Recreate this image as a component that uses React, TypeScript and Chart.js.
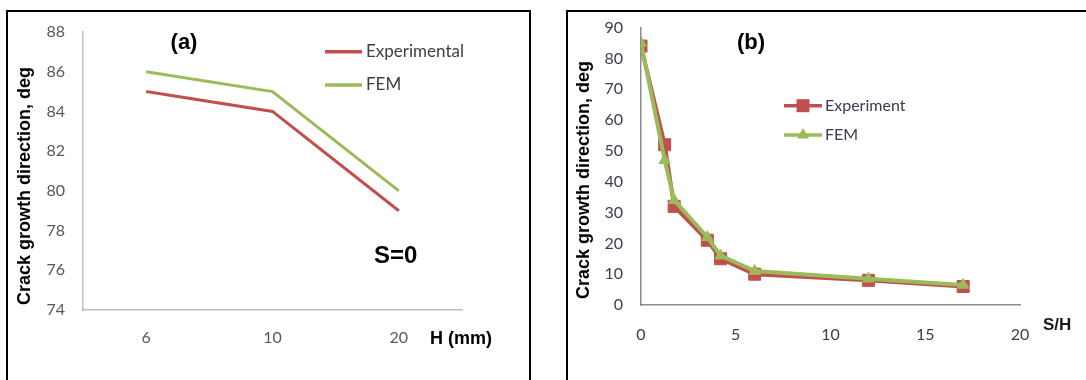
import React, { useEffect, useRef } from 'react';
import { Chart, registerables } from 'chart.js';

Chart.register(...registerables);

// ---------- Data: panel (a) ----------
const hLabels = ['6', '10', '20'];
const expA = [85, 84, 79];
const femA = [86, 85, 80];

// ---------- Data: panel (b) ----------
const sOverH = [0, 1.25, 1.75, 3.5, 4.2, 6, 12, 17];
const expB = [84, 52, 32, 21, 15, 10, 8, 6];
const femB = [85, 47, 34, 22, 16, 11, 8.5, 6.5];

const RED = '#C0504D';
const GREEN = '#9BBB59';
const BOLD_FAMILY = '"Liberation Sans", Arial, sans-serif';
const TICK_FAMILY = 'Lato, "Open Sans", sans-serif';

function drawText(ctx: any, text: string, x: number, y: number, font: string, color: string, align: string = 'left', rot = 0) {
  ctx.save();
  ctx.font = font;
  ctx.fillStyle = color;
  ctx.textAlign = align;
  ctx.textBaseline = 'middle';
  ctx.translate(x, y);
  if (rot) ctx.rotate(rot);
  ctx.fillText(text, 0, 0);
  ctx.restore();
}

const overlayA = {
  id: 'overlayA',
  afterDraw(chart: any) {
    const ctx = chart.ctx;
    drawText(ctx, 'Crack growth direction, deg', 25, 186, `bold 18px ${BOLD_FAMILY}`, '#000', 'center', -Math.PI / 2);
    drawText(ctx, '(a)', 184, 43, `bold 22px ${BOLD_FAMILY}`, '#000', 'center');
    drawText(ctx, 'S=0', 374, 256, `bold 24px ${BOLD_FAMILY}`, '#000', 'left');
    drawText(ctx, 'H (mm)', 430, 339, `bold 18px ${BOLD_FAMILY}`, '#000', 'left');
    const ds = chart.data.datasets;
    const rows = [51.7, 85];
    ds.forEach((d: any) => {
      const y = rows[d.legendRow];
      ctx.save();
      ctx.strokeStyle = d.borderColor;
      ctx.lineWidth = 3.5;
      ctx.beginPath();
      ctx.moveTo(325, y);
      ctx.lineTo(362, y);
      ctx.stroke();
      ctx.restore();
      drawText(ctx, d.label, 366, y, `17px ${TICK_FAMILY}`, '#404040', 'left');
    });
  },
};

const OX = 568; // page x of right canvas
const overlayB = {
  id: 'overlayB',
  afterDraw(chart: any) {
    const ctx = chart.ctx;
    drawText(ctx, 'Crack growth direction, deg', 584 - OX, 180, `bold 18px ${BOLD_FAMILY}`, '#000', 'center', -Math.PI / 2);
    drawText(ctx, '(b)', 751 - OX, 43, `bold 22px ${BOLD_FAMILY}`, '#000', 'center');
    drawText(ctx, 'S/H', 1043 - OX, 325, `bold 17px ${BOLD_FAMILY}`, '#1a1a1a', 'left');
    const ds = chart.data.datasets;
    const rows = [105.7, 135];
    ds.forEach((d: any) => {
      const y = rows[d.legendRow];
      const x0 = 784 - OX, x1 = 822 - OX, cx = 803 - OX;
      ctx.save();
      ctx.strokeStyle = d.borderColor;
      ctx.lineWidth = 3.5;
      ctx.beginPath();
      ctx.moveTo(x0, y);
      ctx.lineTo(x1, y);
      ctx.stroke();
      ctx.fillStyle = d.pointBackgroundColor;
      ctx.beginPath();
      if (d.pointStyle === 'rect') {
        const s = 6.5;
        ctx.rect(cx - s, y - s, 2 * s, 2 * s);
      } else {
        const r = 7;
        ctx.moveTo(cx, y - r);
        ctx.lineTo(cx + r * Math.sin((2 * Math.PI) / 3), y - r * Math.cos((2 * Math.PI) / 3));
        ctx.lineTo(cx + r * Math.sin((4 * Math.PI) / 3), y - r * Math.cos((4 * Math.PI) / 3));
        ctx.closePath();
      }
      ctx.fill();
      ctx.restore();
      drawText(ctx, d.label, 825 - OX, y, `16px ${TICK_FAMILY}`, '#3b3b50', 'left');
    });
  },
};

function ChartA() {
  const ref = useRef<HTMLCanvasElement | null>(null);
  useEffect(() => {
    if (!ref.current) return;
    const chart = new Chart(ref.current, {
      type: 'line',
      data: {
        labels: hLabels,
        datasets: [
          { label: 'Experimental', data: expA, borderColor: RED, backgroundColor: RED, borderWidth: 3, pointRadius: 0, tension: 0, legendRow: 0, order: 1 } as any,
          { label: 'FEM', data: femA, borderColor: GREEN, backgroundColor: GREEN, borderWidth: 3, pointRadius: 0, tension: 0, legendRow: 1, order: 0 } as any,
        ],
      },
      options: {
        responsive: false,
        animation: false,
        devicePixelRatio: 1,
        layout: { padding: { left: 0, right: 68, top: 32, bottom: 0 } },
        plugins: { legend: { display: false }, tooltip: { enabled: false }, title: { display: false } },
        scales: {
          x: {
            type: 'category',
            offset: true,
            grid: { display: false, drawTicks: false },
            border: { display: true, color: '#bfbfbf', width: 1.5 },
            ticks: { color: '#595959', font: { family: TICK_FAMILY, size: 16 }, padding: 18 },
            afterFit: (s: any) => { s.height = 70; },
          },
          y: {
            min: 74,
            max: 88,
            grid: { display: false, drawTicks: false },
            border: { display: true, color: '#bfbfbf', width: 1.5 },
            ticks: { stepSize: 2, color: '#595959', font: { family: TICK_FAMILY, size: 16 }, padding: 18 },
            afterFit: (s: any) => { s.width = 83; },
          },
        },
      } as any,
      plugins: [overlayA],
    });
    (document as any).fonts?.load?.(`16px Lato`).then(() => chart.update()).catch(() => {});
    return () => chart.destroy();
  }, []);
  return <canvas ref={ref} width={530} height={380} style={{ position: 'absolute', left: 0, top: 0, width: 530, height: 380 }} />;
}

function ChartB() {
  const ref = useRef<HTMLCanvasElement | null>(null);
  useEffect(() => {
    if (!ref.current) return;
    const chart = new Chart(ref.current, {
      type: 'line',
      data: {
        datasets: [
          {
            label: 'Experiment',
            data: sOverH.map((x, i) => ({ x, y: expB[i] })),
            borderColor: RED,
            backgroundColor: RED,
            pointBackgroundColor: RED,
            pointBorderColor: RED,
            pointStyle: 'rect',
            pointRadius: 8.5,
            pointBorderWidth: 1,
            borderWidth: 4,
            tension: 0,
            legendRow: 0,
            order: 1,
          } as any,
          {
            label: 'FEM',
            data: sOverH.map((x, i) => ({ x, y: femB[i] })),
            borderColor: GREEN,
            backgroundColor: GREEN,
            pointBackgroundColor: GREEN,
            pointBorderColor: GREEN,
            pointStyle: 'triangle',
            pointRadius: 6.5,
            pointBorderWidth: 1,
            borderWidth: 4,
            tension: 0,
            legendRow: 1,
            order: 0,
          } as any,
        ],
      },
      options: {
        responsive: false,
        animation: false,
        devicePixelRatio: 1,
        layout: { padding: { left: 0, right: 66, top: 27, bottom: 0 } },
        plugins: { legend: { display: false }, tooltip: { enabled: false }, title: { display: false } },
        scales: {
          x: {
            type: 'linear',
            min: 0,
            max: 20,
            grid: { display: false, drawTicks: false },
            border: { display: true, color: '#8c8c8c', width: 1.5 },
            ticks: { stepSize: 5, color: '#3b3b50', font: { family: TICK_FAMILY, size: 16 }, padding: 20 },
            afterFit: (s: any) => { s.height = 75; },
          },
          y: {
            min: 0,
            max: 90,
            grid: { display: false, drawTicks: false },
            border: { display: true, color: '#8c8c8c', width: 1.5 },
            ticks: { stepSize: 10, color: '#3b3b50', font: { family: TICK_FAMILY, size: 16 }, padding: 18 },
            afterFit: (s: any) => { s.width = 73; },
          },
        },
      } as any,
      plugins: [overlayB],
    });
    (document as any).fonts?.load?.(`16px Lato`).then(() => chart.update()).catch(() => {});
    return () => chart.destroy();
  }, []);
  return <canvas ref={ref} width={518} height={380} style={{ position: 'absolute', left: OX, top: 0, width: 518, height: 380 }} />;
}

export default function App() {
  return (
    <div style={{ position: 'absolute', left: 0, top: 0, width: 1086, height: 380, overflow: 'hidden', background: '#fff' }}>
      <div style={{ position: 'absolute', left: 6, top: 10, width: 525, height: 420, border: '2px solid #000', boxSizing: 'border-box' }} />
      <div style={{ position: 'absolute', left: 566, top: 10, width: 600, height: 420, border: '2px solid #000', boxSizing: 'border-box' }} />
      <ChartA />
      <ChartB />
    </div>
  );
}
